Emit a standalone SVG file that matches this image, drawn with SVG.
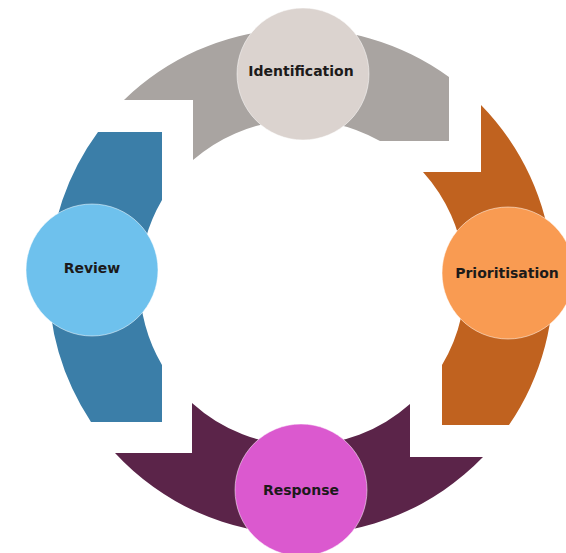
<svg xmlns="http://www.w3.org/2000/svg" width="566" height="553" viewBox="0 0 566 553">
  <style>
    .lbl { font-family: "DejaVu Sans", "Liberation Sans", sans-serif; font-weight: bold; font-size: 14px; fill: #1c1a1a; text-anchor: middle; }
    .node { stroke: #ffffff; stroke-opacity: 0.5; stroke-width: 1; }
  </style>
  <rect width="566" height="553" fill="#ffffff"/>

  <!-- ring segments (band between r≈163 and r≈253 around 300,282) -->
  <g id="connectors">
    <path id="seg-top" fill="#a9a4a1" d="M124,100 A253,253 0 0 1 449,77 L449,141 L380,141 A163,163 0 0 0 193,160 L193,100 Z"/>
    <path id="seg-right" fill="#c0621f" d="M481,105 L481,172 L423,172 A163,163 0 0 1 442,365 L442,425 L509,425 A253,253 0 0 0 481,105 Z"/>
    <path id="seg-bottom" fill="#5b2449" d="M410,404 L410,457 L483,457 A253,253 0 0 1 115,453 L192,453 L192,403 A163,163 0 0 0 410,404 Z"/>
    <path id="seg-left" fill="#3b7ea8" d="M98,132 L162,132 L162,200 A163,163 0 0 0 162,365 L162,422 L91,422 A253,253 0 0 1 98,132 Z"/>
  </g>

  <g id="identification">
    <circle class="node" cx="303" cy="74" r="66" fill="#dbd3cf"/>
    <text class="lbl" x="301" y="76">Identification</text>
  </g>

  <g id="prioritisation">
    <circle class="node" cx="508" cy="273" r="66" fill="#f99b52"/>
    <text class="lbl" x="507" y="278">Prioritisation</text>
  </g>

  <g id="response">
    <circle class="node" cx="301" cy="490" r="66" fill="#db59cf"/>
    <text class="lbl" x="301" y="495">Response</text>
  </g>

  <g id="review">
    <circle class="node" cx="92" cy="270" r="66" fill="#6ec1ed"/>
    <text class="lbl" x="92" y="273">Review</text>
  </g>
</svg>
